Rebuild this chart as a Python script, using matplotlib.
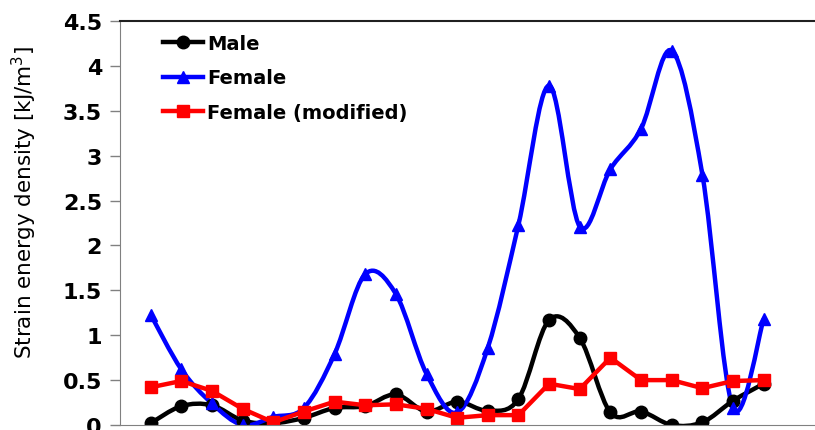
import numpy as np
import matplotlib
matplotlib.use('Agg')
import matplotlib.pyplot as plt
from matplotlib.path import Path
from matplotlib.patches import PathPatch
from matplotlib.lines import Line2D

plt.rcParams['font.family'] = ['DejaVu Sans']

positions = list(range(1, 22))
male = [0.02, 0.21, 0.22, 0.05, 0.02, 0.08, 0.19, 0.21, 0.34, 0.15, 0.26, 0.16, 0.29,
        1.17, 0.97, 0.14, 0.15, 0.0, 0.03, 0.27, 0.46]
female = [1.23, 0.62, 0.24, 0.0, 0.09, 0.19, 0.79, 1.68, 1.46, 0.57, 0.14, 0.86, 2.23,
          3.78, 2.21, 2.85, 3.30, 4.17, 2.79, 0.19, 1.18]
female_mod = [0.42, 0.49, 0.38, 0.18, 0.03, 0.15, 0.26, 0.22, 0.23, 0.18, 0.08, 0.11, 0.11,
              0.46, 0.40, 0.75, 0.50, 0.50, 0.41, 0.49, 0.50]
yticks = [0, 0.5, 1, 1.5, 2, 2.5, 3, 3.5, 4, 4.5]
ytick_labels = ['0', '0.5', '1', '1.5', '2', '2.5', '3', '3.5', '4', '4.5']


def smooth_path(xs, ys):
    # Excel-style smoothed line: cubic Bezier through the points
    pts = np.column_stack([xs, ys]).astype(float)
    n = len(pts)
    verts = [pts[0]]
    codes = [Path.MOVETO]
    for i in range(n - 1):
        p0 = pts[max(i - 1, 0)]
        p1 = pts[i]
        p2 = pts[i + 1]
        p3 = pts[min(i + 2, n - 1)]
        c1 = p1 + (p2 - p0) / 6.0
        c2 = p2 - (p3 - p1) / 6.0
        verts += [c1, c2, p2]
        codes += [Path.CURVE4] * 3
    return Path(verts, codes)


fig = plt.figure(figsize=(8.15, 4.31), dpi=100)
ax = fig.add_axes([120 / 815, 5 / 431, 700 / 815, 404 / 431])

lw = 3.2
ax.add_patch(PathPatch(smooth_path(positions, male), facecolor='none', edgecolor='black', lw=lw))
ax.plot(positions, male, 'o', color='black', ms=9)
ax.add_patch(PathPatch(smooth_path(positions, female), facecolor='none', edgecolor='#0000FF', lw=lw))
ax.plot(positions, female, '^', color='#0000FF', ms=9)
ax.plot(positions, female_mod, 's-', color='#FF0000', lw=lw, ms=9)

ax.set_xlim(0, 700 / 30.65)
ax.set_ylim(0, 4.5)
ax.set_yticks(yticks)
ax.set_yticklabels(ytick_labels, fontsize=16, fontweight='bold')
ax.set_xticks([])
ax.tick_params(axis='y', direction='out', length=7, width=1, color='#808080', pad=6)
ax.spines['right'].set_visible(False)
ax.spines['left'].set_color('#808080')
ax.spines['bottom'].set_color('#808080')
ax.spines['top'].set_color('#202020')
ax.spines['top'].set_linewidth(1.5)
ax.set_ylabel('Strain energy density [kJ/m$^3$]', fontsize=15.5)
ax.yaxis.set_label_coords(-0.116, 0.554)

handles = [
    Line2D([], [], color='black', marker='o', lw=lw, ms=9),
    Line2D([], [], color='#0000FF', marker='^', lw=lw, ms=9),
    Line2D([], [], color='#FF0000', marker='s', lw=lw, ms=9),
]
ax.legend(handles, ['Male', 'Female', 'Female (modified)'], loc='upper left',
          bbox_to_anchor=(0.061, 0.968), frameon=False, handlelength=2.05,
          handletextpad=0.25, labelspacing=0.8, borderpad=0, borderaxespad=0,
          prop={'weight': 'bold', 'size': 14})

fig.savefig('out.png', dpi=100)
